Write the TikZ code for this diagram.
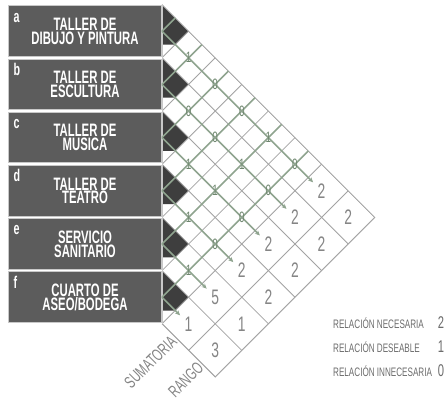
\documentclass[tikz,border=0pt]{standalone}
\usepackage{fontspec}
\newfontfamily\cond[FakeStretch=0.66]{Liberation Sans}
\newfontfamily\condb[FakeStretch=0.63]{Liberation Sans Bold}
\usetikzlibrary{arrows.meta}
\definecolor{boxgray}{HTML}{5C5C5C}
\definecolor{boxedge}{HTML}{C8C8C8}
\definecolor{darktri}{HTML}{3E3E3E}
\definecolor{gridgray}{HTML}{A3A3A3}
\definecolor{relgreen}{HTML}{8FA48F}
\definecolor{markgreen}{HTML}{6E866E}
\definecolor{numgray}{HTML}{858585}
\definecolor{leggray}{HTML}{6C6C6C}
\begin{document}
\begin{tikzpicture}[x=1pt,y=-1pt,
 roombox/.style={fill=boxgray, draw=boxedge, line width=0.9pt, minimum width=153pt, minimum height=50.6pt, inner sep=0pt, text=white, align=center, font=\condb\fontsize{18}{12.5}\selectfont},
 letterlab/.style={text=white, anchor=base west, inner sep=0pt, font=\condb\fontsize{17}{17}\selectfont},
 gridline/.style={draw=gridgray, line width=0.8pt},
 relline/.style={draw=relgreen, line width=1.6pt},
 relarrow/.style={relline, -{Stealth[length=5pt,width=4.5pt]}},
 relmark/.style={text=markgreen, inner sep=0pt, font=\cond\fontsize{15}{15}\selectfont},
 sumnum/.style={text=numgray, inner sep=0pt, font=\cond\fontsize{21}{21}\selectfont},
 collab/.style={text=numgray, rotate=45, anchor=east, inner sep=2pt, font=\cond\fontsize{17}{17}\selectfont},
 legtext/.style={text=leggray, anchor=base west, inner sep=0pt, font=\cond\fontsize{12.3}{12.3}\selectfont},
 legnum/.style={text=leggray, anchor=base, inner sep=0pt, font=\cond\fontsize{17}{17}\selectfont}]
\def\h{26.6}
\def\yt{4.6}
\def\xo{162}
\fill[white] (0,0) rectangle (448,400);
\useasboundingbox (0,0) rectangle (448,400);

% room boxes
\foreach \k/\nm/\lt/\txt in {0/A/a/{TALLER DE\\DIBUJO Y PINTURA},1/B/b/{TALLER DE\\ESCULTURA},2/C/c/{TALLER DE\\MUSICA},3/D/d/{TALLER DE\\TEATRO},4/E/e/{SERVICIO\\SANITARIO},5/F/f/{CUARTO DE\\ASEO/BODEGA}}{
  \pgfmathsetmacro\cy{\yt+\h*(2*\k+1)}
  \pgfmathsetmacro\by{\yt+\h*2*\k}
  \node[roombox] (box\nm) at (85,\cy) {\txt};
  \node[letterlab] (let\nm) at (13.5,\by+17.5) {\lt};
  \fill[darktri] (\xo,\by) -- (\xo+\h,\cy) -- (\xo+\h/2,\cy+\h/2) -- (\xo,\cy+\h/2) -- cycle;
}

% outline corners
\coordinate (A) at (\xo,\yt);
\coordinate (B) at ({\xo+8*\h},{\yt+8*\h});
\coordinate (C) at ({\xo+2*\h},{\yt+14*\h});
\coordinate (D) at (\xo,{\yt+12*\h});

\begin{scope}
\clip (A) -- (B) -- (C) -- (D) -- cycle;
\foreach \n in {0,...,6}{
  \draw[gridline] (\xo,{\yt+2*\h*\n}) -- ++(300,300);
}
\foreach \n in {0,...,8}{
  \draw[gridline] (\xo,{\yt+2*\h*\n}) -- ++(300,-300);
}
\end{scope}
\draw[gridline] (A) -- (B) -- (C) -- (D);
\draw[draw=boxedge, line width=0.8pt] (D) -- (A);

% relation lines
\foreach \i in {0,...,5}{
  \pgfmathsetmacro\cy{\yt+\h*(2*\i+1)}
  \pgfmathsetmacro\dl{\h*(5-\i+0.68)}
  \pgfmathsetmacro\ul{\h*(\i+0.5)}
  \coordinate (r\i) at (\xo,\cy);
  \coordinate (e\i) at (\xo+\dl,\cy+\dl);
  \coordinate (t\i) at (\xo+\ul,\cy-\ul);
  \draw[relline] (r\i) -- (t\i);
  \draw[relarrow] (r\i) -- (e\i);
}

% pair values
\foreach \i/\j/\v in {0/1/1,0/2/0,0/3/0,0/4/1,0/5/0,1/2/0,1/3/0,1/4/1,1/5/0,2/3/1,2/4/1,2/5/0,3/4/1,3/5/0,4/5/1}{
  \node[relmark] (p\i\j) at ({\xo+\h*(\j-\i)},{\yt+\h*(\i+\j+1)}) {\v};
}

% sums and ranks
\foreach \i/\s/\r in {0/2/2,1/2/2,2/2/2,3/2/2,4/5/1,5/1/3}{
  \node[sumnum] (s\i) at ({\xo+\h*(6-\i)},{\yt+\h*(7+\i)}) {\s};
  \node[sumnum] (k\i) at ({\xo+\h*(7-\i)},{\yt+\h*(8+\i)}) {\r};
}

\node[collab] (sumlab) at ({\xo+\h/2},{\yt+12.5*\h}) {SUMATORIA};
\node[collab] (ranglab) at ({\xo+1.5*\h},{\yt+13.5*\h}) {RANGO};

% legend
\node[legtext] (l1) at (333,328) {RELACIÓN NECESARIA};
\node[legtext] (l2) at (333,352) {RELACIÓN DESEABLE};
\node[legtext] (l3) at (333,376) {RELACIÓN INNECESARIA};
\node[legnum] (n1) at (441,328) {2};
\node[legnum] (n2) at (441,352) {1};
\node[legnum] (n3) at (441,376) {0};
\end{tikzpicture}
\end{document}
